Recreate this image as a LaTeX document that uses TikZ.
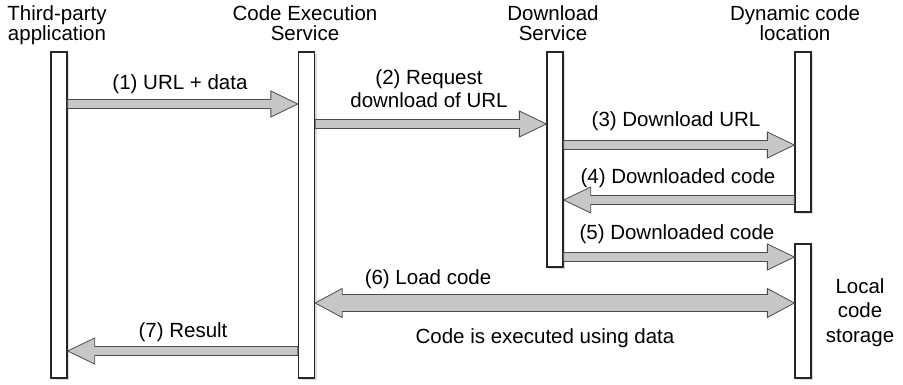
\documentclass[tikz,border=0pt]{standalone}
\usepackage{fontspec}
\setmainfont{Liberation Sans}
\usetikzlibrary{calc,shadows}
\begin{document}
\begin{tikzpicture}[x=1pt,y=-1pt,
  bar/.style={draw=black!85, line width=1.3pt, fill=white, minimum width=16pt, inner sep=0pt,
    drop shadow={shadow xshift=2pt,shadow yshift=-2pt,opacity=0.28}},
  lbl/.style={font=\fontsize{20.5}{24.5}\selectfont, align=center, inner sep=0pt, anchor=base},
  ttl/.style={font=\fontsize{20.5}{20}\selectfont, align=center, inner sep=0pt, anchor=base},
  arrbox/.style={draw=black!70, line width=0.8pt, fill=black!22, line join=miter},
  fwd/.style 2 args={arrbox, to path={let \p1=(\tikztostart), \p2=(\tikztotarget), \n1={(\x2>\x1)?1:-1} in
     ({\x1},{\y1+#1}) -- ({\x2-\n1*27pt},{\y1+#1}) -- ({\x2-\n1*27pt},{\y1+#2}) -- (\x2,\y1)
     -- ({\x2-\n1*27pt},{\y1-#2}) -- ({\x2-\n1*27pt},{\y1-#1}) -- ({\x1},{\y1-#1}) -- cycle}},
  dbl/.style 2 args={arrbox, to path={let \p1=(\tikztostart), \p2=(\tikztotarget) in
     (\x1,\y1) -- ({\x1+27pt},{\y1+#2}) -- ({\x1+27pt},{\y1+#1}) -- ({\x2-27pt},{\y1+#1})
     -- ({\x2-27pt},{\y1+#2}) -- (\x2,\y1) -- ({\x2-27pt},{\y1-#2}) -- ({\x2-27pt},{\y1-#1})
     -- ({\x1+27pt},{\y1-#1}) -- ({\x1+27pt},{\y1-#2}) -- cycle}}
]
\useasboundingbox (0,0) rectangle (903,385);

% lifelines
\node[bar, minimum height=326pt] (tp)  at (59,215) {};
\node[bar, minimum height=326pt] (ce)  at (306.5,215) {};
\node[bar, minimum height=215pt] (ds)  at (555,159.5) {};
\node[bar, minimum height=160pt] (dyn) at (803,132) {};
\node[bar, minimum height=134pt] (lcs) at (803,311) {};

% titles (anchor base = last line)
\node[ttl] (ttp)  at (57,41)  {Third-party\\application};
\node[ttl] (tce)  at (305,41) {Code Execution\\Service};
\node[ttl] (tds)  at (553,41) {Download\\Service};
\node[ttl] (tdyn) at (795,41) {Dynamic code\\location};
\node[lbl] (tlcs) at (860,342) {Local\\code\\storage};

% messages
\draw[fwd={4.5pt}{13pt}] (tp.east |- 0,104) to (ce.west |- 0,104);
\node[lbl] (l1) at (180,90) {(1) URL + data};

\draw[fwd={4.5pt}{13pt}] (ce.east |- 0,124) to (ds.west |- 0,124);
\node[lbl, font=\fontsize{20.5}{23}\selectfont] (l2) at (429,108) {(2) Request\\download of URL};

\draw[fwd={4.5pt}{13pt}] (ds.east |- 0,145) to (dyn.west |- 0,145);
\node[lbl] (l3) at (676,127) {(3) Download URL};

\draw[fwd={4.5pt}{13pt}] (dyn.west |- 0,200) to (ds.east |- 0,200);
\node[lbl] (l4) at (678,184) {(4) Downloaded code};

\draw[fwd={4.5pt}{13pt}] (ds.east |- 0,257) to (lcs.west |- 0,257);
\node[lbl] (l5) at (677,240) {(5) Downloaded code};

\draw[dbl={8.5pt}{14.5pt}] (ce.east |- 0,303) to (lcs.west |- 0,303);
\node[lbl] (l6) at (428,284) {(6) Load code};
\node[lbl] (l6b) at (545,343) {Code is executed using data};

\draw[fwd={4.5pt}{13pt}] (ce.west |- 0,351) to (tp.east |- 0,351);
\node[lbl] (l7) at (183,337) {(7) Result};
\end{tikzpicture}
\end{document}
